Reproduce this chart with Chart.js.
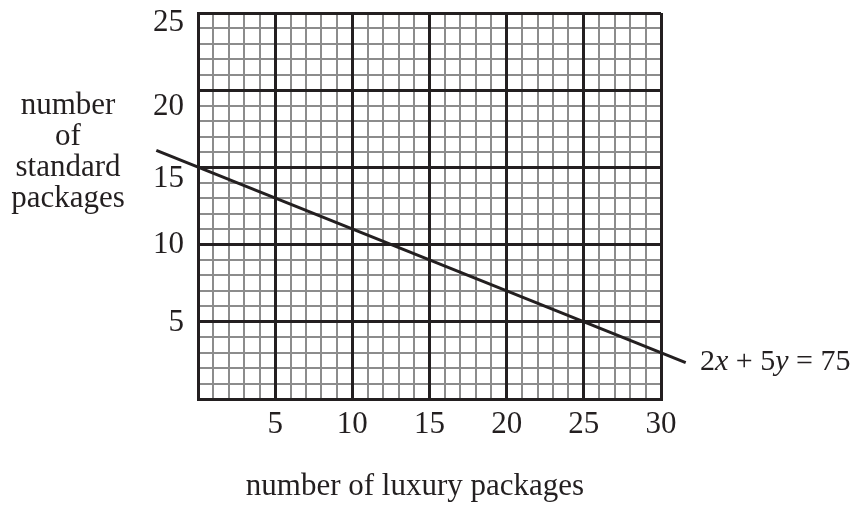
<!DOCTYPE html>
<html>
<head>
<meta charset="utf-8">
<script src="https://cdn.jsdelivr.net/npm/chart.js@4"></script>
<style>
  body { margin: 0; background: #fff; }
  #wrap { width: 856px; height: 508px; }
</style>
</head>
<body>
<div id="wrap"><canvas id="chart" width="856" height="508"></canvas></div>
<script>
const chartCanvas = document.querySelector("#chart");

// values
const xTickValues = [5, 10, 15, 20, 25, 30];
const yTickValues = [5, 10, 15, 20, 25];
const lineX = [-2.7, 31.6];
const lineY = [16.1, 2.36];
const xTitle = "number of luxury packages";
const yTitleLines = ["number", "of", "standard", "packages"];
const equationParts = [
  { text: "2", italic: false },
  { text: "x", italic: true },
  { text: " + 5", italic: false },
  { text: "y", italic: true },
  { text: " = 75", italic: false },
];

const INK = "#231f20";
const GRAY = "#8c8c8c";
const FONT = "Liberation Serif";

// the labels on the y axis sit a bit below some of the lines in the original
const yLabelNudge = { 5: 1, 10: 0, 15: 11, 20: 17, 25: 10 };

const labelsPlugin = {
  id: "labels",
  afterDraw(chart) {
    const ctx = chart.ctx;
    const area = chart.chartArea;
    const yScale = chart.scales.y;
    ctx.save();
    ctx.fillStyle = INK;
    ctx.font = "31px '" + FONT + "'";
    ctx.textBaseline = "middle";

    ctx.textAlign = "right";
    yTickValues.forEach((v) => {
      ctx.fillText(String(v), area.left - 14, yScale.getPixelForValue(v) + yLabelNudge[v]);
    });

    ctx.textAlign = "center";
    yTitleLines.forEach((line, i) => {
      ctx.fillText(line, 68, 106 + i * 31);
    });
    ctx.fillText(xTitle, 415, 487);

    // equation next to the end of the line
    ctx.textAlign = "left";
    ctx.textBaseline = "alphabetic";
    let x = 700;
    equationParts.forEach((p) => {
      ctx.font = (p.italic ? "italic " : "") + "30px '" + FONT + "'";
      ctx.fillText(p.text, x, 370);
      x += ctx.measureText(p.text).width;
    });
    ctx.restore();
  },
};

const data = {
  datasets: [
    {
      label: "2x + 5y = 75",
      data: lineX.map((x, i) => ({ x: x, y: lineY[i] })),
      borderColor: INK,
      backgroundColor: INK,
      borderWidth: 3,
      pointRadius: 0,
      showLine: true,
      clip: false,
      xAxisID: "x",
      yAxisID: "y",
    },
  ],
};

const config = {
  type: "scatter",
  data: data,
  plugins: [labelsPlugin],
  options: {
    responsive: false,
    animation: false,
    events: [],
    layout: { padding: { left: 0, top: 13, right: 195, bottom: 0 } },
    plugins: { legend: { display: false }, tooltip: { enabled: false } },
    scales: {
      x: {
        type: "linear",
        position: "bottom",
        min: 0,
        max: 30,
        afterBuildTicks: (scale) => {
          scale.ticks = [{ value: 0 }].concat(xTickValues.map((v) => ({ value: v })));
        },
        ticks: {
          autoSkip: false,
          maxRotation: 0,
          padding: 7,
          color: INK,
          font: { family: FONT, size: 31 },
          callback: (v) => (v === 0 ? "" : v),
        },
        grid: { color: INK, lineWidth: 3, drawTicks: false, z: -1 },
        border: { display: true, color: INK, width: 3 },
        afterFit: (scale) => { scale.height = 109; },
      },
      xMinor: {
        type: "linear",
        position: "top",
        min: 0,
        max: 30,
        ticks: { display: false, stepSize: 1, autoSkip: false },
        grid: { color: GRAY, lineWidth: 2, drawTicks: false, z: -2 },
        border: { display: false },
        afterFit: (scale) => { scale.height = 0; },
      },
      y: {
        type: "linear",
        position: "left",
        min: 0,
        max: 25,
        afterBuildTicks: (scale) => {
          scale.ticks = [{ value: 0 }].concat(yTickValues.map((v) => ({ value: v })));
        },
        ticks: { display: false },
        grid: { color: INK, lineWidth: 3, drawTicks: false, z: -1 },
        border: { display: true, color: INK, width: 3 },
        afterFit: (scale) => { scale.width = 198; },
      },
      yMinor: {
        type: "linear",
        position: "right",
        min: 0,
        max: 25,
        ticks: { display: false, stepSize: 1, autoSkip: false },
        grid: { color: GRAY, lineWidth: 2, drawTicks: false, z: -2 },
        border: { display: false },
        afterFit: (scale) => { scale.width = 0; },
      },
    },
  },
};

const myChart = new Chart(chartCanvas, config);
</script>
</body>
</html>
